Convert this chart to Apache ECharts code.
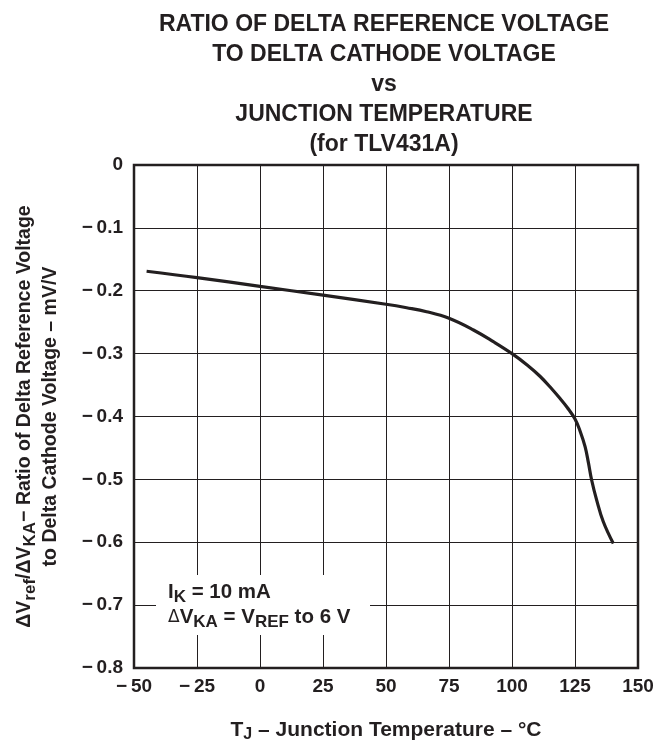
<!DOCTYPE html>
<html>
<head>
<meta charset="utf-8">
<script src="https://cdn.jsdelivr.net/npm/echarts@6/dist/echarts.min.js"></script>
<style>
html,body{margin:0;padding:0;background:#fff;}
#chart{width:659px;height:740px;}
</style>
</head>
<body>
<div id="chart"></div>
<script>
// Data
const tempC = [-45, -25, 0, 25, 50, 58.2, 66.1, 75, 84.7, 92.6, 100, 106, 111.1, 116, 119, 122, 125, 127, 129, 130.3, 131.6, 133.6, 136.2, 140.2];
const ratio = [-0.169, -0.179, -0.193, -0.207, -0.2215, -0.227, -0.2333, -0.2438, -0.2624, -0.281, -0.300, -0.318, -0.336, -0.357, -0.371, -0.386, -0.404, -0.423, -0.448, -0.473, -0.501, -0.533, -0.567, -0.602];
const xTicks = [-50, -25, 0, 25, 50, 75, 100, 125, 150];
const yTicks = [0, -0.1, -0.2, -0.3, -0.4, -0.5, -0.6, -0.7, -0.8];

const FONT = 'Liberation Sans, Arial, sans-serif';
const INK = '#231f20';

const chart = echarts.init(document.getElementById('chart'), null, {renderer: 'canvas'});
const fmtNeg = v => {
  const r = Math.round(v * 100) / 100;
  if (Math.abs(r) < 1e-9) return '0';
  return r < 0 ? '\u2212\u2009' + Math.abs(r) : String(r);
};
const fmtNeg1 = v => {
  const r = Math.round(v * 10) / 10;
  if (Math.abs(r) < 1e-9) return '0';
  return '\u2212\u2009' + Math.abs(r).toFixed(1);
};

chart.setOption({
  animation: false,
  backgroundColor: '#fff',
  title: {
    text: 'RATIO OF DELTA REFERENCE VOLTAGE\nTO DELTA CATHODE VOLTAGE\nvs\nJUNCTION TEMPERATURE\n(for TLV431A)',
    left: 379,
    top: 5,
    textAlign: 'center',
    textStyle: {fontFamily: FONT, fontWeight: 'bold', fontSize: 23, lineHeight: 30, color: INK}
  },
  grid: {left: 134, right: 21, top: 165, bottom: 72, show: true, borderColor: INK, borderWidth: 2.5,
    backgroundColor: 'transparent', containLabel: false, outerBoundsMode: 'none'},
  xAxis: {
    type: 'value', min: xTicks[0], max: xTicks[xTicks.length - 1], interval: 25,
    axisLine: {show: false}, axisTick: {show: false},
    splitLine: {show: true, lineStyle: {color: INK, width: 1}},
    axisLabel: {formatter: fmtNeg, fontFamily: FONT, fontWeight: 'bold', fontSize: 19, color: INK, margin: 9},
    name: 'T{sub|J} \u2013 Junction Temperature \u2013 \u00B0C',
    nameLocation: 'middle', nameGap: 49,
    nameTextStyle: {fontFamily: FONT, fontWeight: 'bold', fontSize: 21, color: INK,
      rich: {sub: {fontFamily: FONT, fontWeight: 'bold', fontSize: 16, color: INK, padding: [10, 0, 0, 0]}}}
  },
  yAxis: {
    type: 'value', min: yTicks[yTicks.length - 1], max: yTicks[0], interval: 0.1,
    axisLine: {show: false}, axisTick: {show: false},
    splitLine: {show: true, lineStyle: {color: INK, width: 1}},
    axisLabel: {formatter: fmtNeg1, fontFamily: FONT, fontWeight: 'bold', fontSize: 19, color: INK, margin: 11},
    name: '\u0394V{sub|ref}/\u0394V{sub|KA}\u2212 Ratio of Delta Reference Voltage\nto Delta Cathode Voltage \u2013 mV/V',
    nameLocation: 'middle', nameGap: 70, nameRotate: 90,
    nameTextStyle: {fontFamily: FONT, fontWeight: 'bold', fontSize: 19.5, color: INK, lineHeight: 26,
      rich: {sub: {fontFamily: FONT, fontWeight: 'bold', fontSize: 17, color: INK, padding: [11, 0, 0, 0]}}}
  },
  graphic: [
    {type: 'rect', left: 156, top: 575, shape: {width: 214, height: 60}, style: {fill: '#fff'}, z: 5},
    {type: 'text', left: 168, top: 580, z: 6, style: {
      text: 'I{sub|K} = 10 mA\n{d|\u0394}V{sub|KA} = V{sub|REF} to 6 V',
      font: 'bold 20.5px Liberation Sans', fill: INK, lineHeight: 25,
      rich: {
        sub: {font: 'bold 17px Liberation Sans', fill: INK, padding: [10, 0, 0, 0]},
        d: {font: '17px DejaVu Sans', fill: INK}
      }
    }}
  ],
  series: [{
    type: 'line',
    data: tempC.map((t, i) => [t, ratio[i]]),
    smooth: 0.4,
    showSymbol: false,
    lineStyle: {color: INK, width: 3.2},
    z: 10
  }]
});
</script>
</body>
</html>
